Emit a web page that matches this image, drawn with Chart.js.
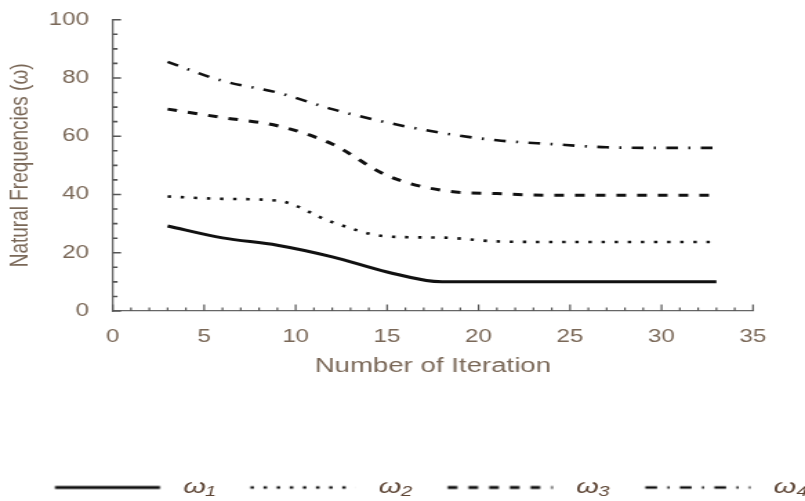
<!DOCTYPE html>
<html>
<head>
<meta charset="utf-8">
<script src="https://cdn.jsdelivr.net/npm/chart.js@4.4.1/dist/chart.umd.min.js"></script>
<style>
html,body{margin:0;padding:0;background:#fff;overflow:hidden}
</style>
</head>
<body>
<canvas id="c" width="583" height="501" style="display:block;width:805px;height:501px"></canvas>
<script>
// ---- data ----
const iterations = [3, 6, 9, 12, 15, 18, 21, 24, 27, 30, 33];
const omega1 = [29.2, 25.1, 22.6, 18.6, 13.4, 10, 10, 10, 10, 10, 10];
const omega2 = [39.3, 38.5, 37.9, 30.5, 25.6, 25.2, 23.9, 23.7, 23.7, 23.7, 23.7];
const omega3 = [69.3, 66.4, 63.6, 57.3, 46.5, 41.4, 40.3, 39.7, 39.7, 39.7, 39.7];
const omega4 = [85.5, 79, 75, 69.3, 64.7, 61.1, 58.6, 57.3, 56.2, 56, 56];
const seriesNames = ['ω₁', 'ω₂', 'ω₃', 'ω₄'];
const xTitle = 'Number of Iteration';
const yTitle = 'Natural Frequencies (ω)';
const xMin = 0, xMax = 35, xStep = 5;
const yMin = 0, yMax = 100, yStep = 20;

// ---- layout helpers (canvas is drawn narrower and stretched horizontally) ----
const W = 583, H = 501;
const S = 805 / W;
const px = v => v / S;           // screen x -> canvas x
const FAM = '"Liberation Sans", Arial, "DejaVu Sans", sans-serif';
const TXT = '#7a6858';
const LEG_COLOR = '#5e4636';
const LEG_FONT = 21;
const legendFontStr = 'italic ' + LEG_FONT + 'px ' + FAM;

const mctx = document.createElement('canvas').getContext('2d');
mctx.font = legendFontStr;
const tw = mctx.measureText(seriesNames[0]).width;

const firstLine = px(55), secondLine = px(250), firstText = px(183);
const sampleLen = px(160) - px(55);
const marginR = Math.max(0, firstText - firstLine - sampleLen - LEG_FONT / 2);
const legPad = 1;
const advance = secondLine - firstLine;
let marginL = advance - (sampleLen + marginR + LEG_FONT / 2) - tw - legPad;
if (marginL < 0) marginL = 0;
const padLeft = firstLine - legPad - marginL;
const padRight = -40;

function sample(dash, lw) {
  const c = document.createElement('canvas');
  c.width = Math.round(marginL + sampleLen + marginR);
  c.height = 10;
  const g = c.getContext('2d');
  g.strokeStyle = '#111';
  g.lineWidth = lw;
  g.setLineDash(dash);
  g.beginPath();
  g.moveTo(marginL, 5);
  g.lineTo(marginL + sampleLen, 5);
  g.stroke();
  return c;
}

const styles = [
  {dash: [], lw: 3},
  {dash: [2.5, 7], lw: 2.6},
  {dash: [7, 8], lw: 3},
  {dash: [8.5, 7.5, 1.5, 7.5], lw: 2.6}
];
const seriesData = [omega1, omega2, omega3, omega4];

const datasets = seriesData.map((vals, i) => ({
  label: seriesNames[i],
  data: iterations.map((x, j) => ({x: x, y: vals[j]})),
  borderColor: '#111',
  borderWidth: styles[i].lw,
  borderDash: styles[i].dash,
  pointRadius: 0,
  fill: false,
  cubicInterpolationMode: 'monotone'
}));
const legendImgs = styles.map(s => sample(s.dash, s.lw));
const imgW = legendImgs[0].width;

const axisTicks = {
  id: 'axisTicks',
  afterDatasetsDraw(chart) {
    const {ctx, chartArea: a, scales: {x, y}} = chart;
    ctx.save();
    ctx.strokeStyle = '#555';
    ctx.setLineDash([]);
    ctx.lineWidth = 1.2;
    ctx.beginPath();
    for (let v = xMin; v <= xMax; v += 1) {
      const X = x.getPixelForValue(v);
      const len = v % xStep === 0 ? 6.5 : 3.5;
      ctx.moveTo(X, a.bottom);
      ctx.lineTo(X, a.bottom - len);
    }
    ctx.stroke();
    ctx.lineWidth = 1.6;
    ctx.beginPath();
    for (let v = yMin; v <= yMax; v += 5) {
      const Y = y.getPixelForValue(v);
      const len = v % yStep === 0 ? 6 : 3.5;
      ctx.moveTo(a.left, Y);
      ctx.lineTo(a.left + len, Y);
    }
    ctx.stroke();
    ctx.restore();
  }
};

new Chart(document.getElementById('c'), {
  type: 'line',
  data: {datasets},
  plugins: [axisTicks],
  options: {
    responsive: false,
    devicePixelRatio: 1,
    animation: false,
    events: [],
    layout: {padding: {left: padLeft, right: padRight, top: 18.5, bottom: 0}},
    plugins: {
      tooltip: {enabled: false},
      legend: {
        position: 'bottom',
        align: 'start',
        maxHeight: 25,
        labels: {
          usePointStyle: true,
          pointStyleWidth: imgW,
          padding: legPad,
          color: LEG_COLOR,
          font: {family: FAM, size: LEG_FONT, style: 'italic'},
          generateLabels: () => seriesNames.map((n, i) => ({
            text: n,
            pointStyle: legendImgs[i],
            fillStyle: 'rgba(0,0,0,0)',
            strokeStyle: 'rgba(0,0,0,0)',
            lineWidth: 0,
            hidden: false,
            datasetIndex: i,
            fontColor: LEG_COLOR
          }))
        }
      }
    },
    scales: {
      x: {
        type: 'linear',
        min: xMin, max: xMax,
        grid: {display: false},
        border: {display: true, color: '#666', width: 1.3},
        ticks: {stepSize: xStep, padding: 7.5, color: TXT, font: {family: FAM, size: 17.5}},
        title: {display: true, text: xTitle, color: TXT, font: {family: FAM, size: 20},
                padding: {top: 0, bottom: 98}},
        afterFit(s) {
          const lh = (s.chart.legend && s.chart.legend.height) || 25;
          s.height = H - 311 - lh;
        }
      },
      y: {
        type: 'linear',
        min: yMin, max: yMax,
        grid: {display: false},
        border: {display: true, color: '#666', width: 1.3},
        ticks: {stepSize: yStep, padding: 9.2, color: TXT, font: {family: FAM, size: 17.5}},
        title: {display: true, text: yTitle, color: TXT, font: {family: FAM, size: 19},
                padding: {top: px(21) - padLeft - 11.4, bottom: 0}},
        afterFit(s) { s.width = px(112.7) - padLeft; }
      },
      y2: {
        type: 'linear',
        position: 'right',
        display: true,
        grid: {display: false},
        border: {display: false},
        ticks: {display: false},
        afterFit(s) { s.width = W - padRight - px(753); }
      }
    }
  }
});
</script>
</body>
</html>
